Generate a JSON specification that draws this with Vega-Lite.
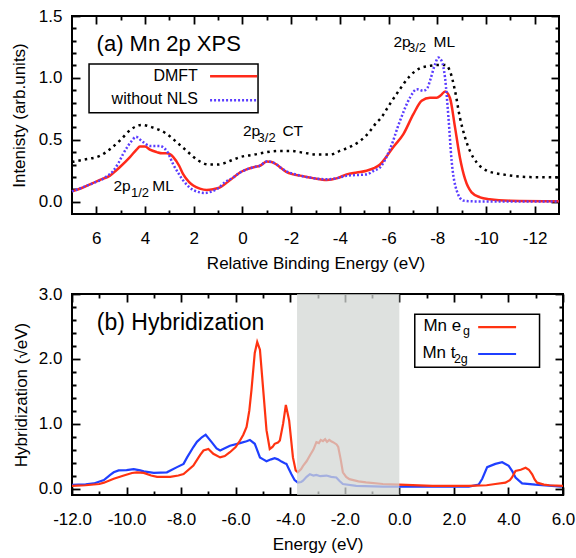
{
  "$schema": "https://vega.github.io/schema/vega-lite/v6.json",
  "padding": {"left": 9, "top": 6, "right": 0, "bottom": 4},
  "spacing": 12,
  "config": {
    "font": "Liberation Sans",
    "view": {"stroke": "black", "strokeWidth": 2},
    "axis": {"domain": false, "grid": false, "zindex": 1, "labelOverlap": false, "labelFlush": false, "offset": -8, "tickSize": 8, "labelFontSize": 17, "labelColor": "black", "titleFontSize": 17, "titleFontWeight": "normal", "titleColor": "black", "tickColor": "black", "tickWidth": 1.8}
  },
  "datasets": {
    "xps": [
      {"s":"exp","e":7.0,"v":0.32},{"s":"exp","e":6.5,"v":0.34},{"s":"exp","e":5.85,"v":0.37},{"s":"exp","e":5.4,"v":0.43},{"s":"exp","e":5.0,"v":0.5},{"s":"exp","e":4.6,"v":0.58},{"s":"exp","e":4.15,"v":0.62},{"s":"exp","e":3.7,"v":0.6},{"s":"exp","e":3.13,"v":0.55},{"s":"exp","e":2.7,"v":0.48},{"s":"exp","e":2.29,"v":0.41},{"s":"exp","e":1.8,"v":0.33},{"s":"exp","e":1.4,"v":0.3},{"s":"exp","e":1.0,"v":0.3},{"s":"exp","e":0.5,"v":0.33},{"s":"exp","e":0.1,"v":0.36},{"s":"exp","e":-0.5,"v":0.38},{"s":"exp","e":-1.0,"v":0.4},{"s":"exp","e":-1.54,"v":0.41},{"s":"exp","e":-2.0,"v":0.41},{"s":"exp","e":-2.36,"v":0.4},{"s":"exp","e":-3.12,"v":0.38},{"s":"exp","e":-3.6,"v":0.38},{"s":"exp","e":-4.0,"v":0.41},{"s":"exp","e":-4.5,"v":0.45},{"s":"exp","e":-4.83,"v":0.49},{"s":"exp","e":-5.2,"v":0.56},{"s":"exp","e":-5.51,"v":0.64},{"s":"exp","e":-5.65,"v":0.667},{"s":"exp","e":-6.06,"v":0.79},{"s":"exp","e":-6.47,"v":0.91},{"s":"exp","e":-6.88,"v":1.016},{"s":"exp","e":-7.29,"v":1.078},{"s":"exp","e":-7.7,"v":1.097},{"s":"exp","e":-8.04,"v":1.105},{"s":"exp","e":-8.32,"v":1.105},{"s":"exp","e":-8.52,"v":1.056},{"s":"exp","e":-8.73,"v":0.895},{"s":"exp","e":-8.93,"v":0.68},{"s":"exp","e":-9.14,"v":0.52},{"s":"exp","e":-9.34,"v":0.41},{"s":"exp","e":-9.62,"v":0.317},{"s":"exp","e":-10.03,"v":0.25},{"s":"exp","e":-10.4,"v":0.23},{"s":"exp","e":-10.85,"v":0.215},{"s":"exp","e":-11.8,"v":0.198},{"s":"exp","e":-13.0,"v":0.196},
      {"s":"dmft","e":7.0,"v":0.083},{"s":"dmft","e":6.6,"v":0.11},{"s":"dmft","e":6.26,"v":0.14},{"s":"dmft","e":5.8,"v":0.18},{"s":"dmft","e":5.44,"v":0.21},{"s":"dmft","e":5.2,"v":0.25},{"s":"dmft","e":5.03,"v":0.28},{"s":"dmft","e":4.62,"v":0.36},{"s":"dmft","e":4.35,"v":0.42},{"s":"dmft","e":4.21,"v":0.446},{"s":"dmft","e":4.0,"v":0.445},{"s":"dmft","e":3.8,"v":0.42},{"s":"dmft","e":3.52,"v":0.4},{"s":"dmft","e":3.3,"v":0.39},{"s":"dmft","e":3.11,"v":0.39},{"s":"dmft","e":2.95,"v":0.38},{"s":"dmft","e":2.84,"v":0.36},{"s":"dmft","e":2.6,"v":0.29},{"s":"dmft","e":2.43,"v":0.22},{"s":"dmft","e":2.2,"v":0.16},{"s":"dmft","e":2.02,"v":0.13},{"s":"dmft","e":1.75,"v":0.105},{"s":"dmft","e":1.47,"v":0.094},{"s":"dmft","e":1.2,"v":0.1},{"s":"dmft","e":0.92,"v":0.115},{"s":"dmft","e":0.6,"v":0.16},{"s":"dmft","e":0.37,"v":0.196},{"s":"dmft","e":0.1,"v":0.235},{"s":"dmft","e":-0.17,"v":0.26},{"s":"dmft","e":-0.5,"v":0.28},{"s":"dmft","e":-0.72,"v":0.29},{"s":"dmft","e":-1.0,"v":0.325},{"s":"dmft","e":-1.2,"v":0.32},{"s":"dmft","e":-1.4,"v":0.3},{"s":"dmft","e":-1.6,"v":0.27},{"s":"dmft","e":-1.8,"v":0.24},{"s":"dmft","e":-2.09,"v":0.22},{"s":"dmft","e":-2.36,"v":0.21},{"s":"dmft","e":-2.9,"v":0.19},{"s":"dmft","e":-3.46,"v":0.175},{"s":"dmft","e":-3.9,"v":0.19},{"s":"dmft","e":-4.28,"v":0.22},{"s":"dmft","e":-4.7,"v":0.235},{"s":"dmft","e":-5.1,"v":0.25},{"s":"dmft","e":-5.4,"v":0.27},{"s":"dmft","e":-5.65,"v":0.3},{"s":"dmft","e":-5.9,"v":0.36},{"s":"dmft","e":-6.19,"v":0.44},{"s":"dmft","e":-6.61,"v":0.546},{"s":"dmft","e":-7.02,"v":0.707},{"s":"dmft","e":-7.36,"v":0.815},{"s":"dmft","e":-7.7,"v":0.84},{"s":"dmft","e":-7.98,"v":0.84},{"s":"dmft","e":-8.15,"v":0.86},{"s":"dmft","e":-8.32,"v":0.89},{"s":"dmft","e":-8.52,"v":0.84},{"s":"dmft","e":-8.73,"v":0.6},{"s":"dmft","e":-8.93,"v":0.357},{"s":"dmft","e":-9.14,"v":0.183},{"s":"dmft","e":-9.41,"v":0.075},{"s":"dmft","e":-9.76,"v":0.035},{"s":"dmft","e":-10.15,"v":0.02},{"s":"dmft","e":-11.0,"v":0.008},{"s":"dmft","e":-13.0,"v":0.004},
      {"s":"nonls","e":7.0,"v":0.083},{"s":"nonls","e":6.26,"v":0.14},{"s":"nonls","e":5.6,"v":0.2},{"s":"nonls","e":5.3,"v":0.25},{"s":"nonls","e":5.1,"v":0.31},{"s":"nonls","e":4.9,"v":0.385},{"s":"nonls","e":4.7,"v":0.45},{"s":"nonls","e":4.55,"v":0.49},{"s":"nonls","e":4.37,"v":0.524},{"s":"nonls","e":4.2,"v":0.5},{"s":"nonls","e":4.07,"v":0.48},{"s":"nonls","e":3.8,"v":0.45},{"s":"nonls","e":3.6,"v":0.45},{"s":"nonls","e":3.39,"v":0.45},{"s":"nonls","e":3.2,"v":0.43},{"s":"nonls","e":3.11,"v":0.41},{"s":"nonls","e":2.84,"v":0.3},{"s":"nonls","e":2.6,"v":0.22},{"s":"nonls","e":2.43,"v":0.17},{"s":"nonls","e":2.2,"v":0.12},{"s":"nonls","e":2.02,"v":0.094},{"s":"nonls","e":1.54,"v":0.07},{"s":"nonls","e":1.3,"v":0.08},{"s":"nonls","e":1.06,"v":0.1},{"s":"nonls","e":0.7,"v":0.16},{"s":"nonls","e":0.37,"v":0.196},{"s":"nonls","e":0.1,"v":0.235},{"s":"nonls","e":-0.17,"v":0.26},{"s":"nonls","e":-0.5,"v":0.28},{"s":"nonls","e":-0.72,"v":0.29},{"s":"nonls","e":-1.0,"v":0.325},{"s":"nonls","e":-1.2,"v":0.32},{"s":"nonls","e":-1.4,"v":0.3},{"s":"nonls","e":-1.6,"v":0.27},{"s":"nonls","e":-1.8,"v":0.245},{"s":"nonls","e":-2.09,"v":0.225},{"s":"nonls","e":-2.36,"v":0.21},{"s":"nonls","e":-2.9,"v":0.19},{"s":"nonls","e":-3.46,"v":0.18},{"s":"nonls","e":-3.9,"v":0.19},{"s":"nonls","e":-4.28,"v":0.21},{"s":"nonls","e":-4.7,"v":0.215},{"s":"nonls","e":-5.1,"v":0.22},{"s":"nonls","e":-5.4,"v":0.25},{"s":"nonls","e":-5.65,"v":0.277},{"s":"nonls","e":-6.06,"v":0.425},{"s":"nonls","e":-6.47,"v":0.653},{"s":"nonls","e":-6.88,"v":0.84},{"s":"nonls","e":-7.16,"v":0.909},{"s":"nonls","e":-7.43,"v":0.895},{"s":"nonls","e":-7.6,"v":0.92},{"s":"nonls","e":-7.7,"v":0.976},{"s":"nonls","e":-7.91,"v":1.11},{"s":"nonls","e":-8.04,"v":1.164},{"s":"nonls","e":-8.18,"v":1.137},{"s":"nonls","e":-8.32,"v":1.0},{"s":"nonls","e":-8.46,"v":0.68},{"s":"nonls","e":-8.59,"v":0.33},{"s":"nonls","e":-8.8,"v":0.089},{"s":"nonls","e":-9.07,"v":0.008},{"s":"nonls","e":-9.5,"v":0.002},{"s":"nonls","e":-13.0,"v":0.002}
    ],
    "hyb": [
      {"s":"eg","e":-12.0,"v":0.04},{"s":"eg","e":-11.5,"v":0.05},{"s":"eg","e":-11.0,"v":0.07},{"s":"eg","e":-10.83,"v":0.09},{"s":"eg","e":-10.47,"v":0.15},{"s":"eg","e":-10.1,"v":0.2},{"s":"eg","e":-9.8,"v":0.24},{"s":"eg","e":-9.62,"v":0.25},{"s":"eg","e":-9.37,"v":0.24},{"s":"eg","e":-9.1,"v":0.2},{"s":"eg","e":-8.88,"v":0.18},{"s":"eg","e":-8.4,"v":0.18},{"s":"eg","e":-8.1,"v":0.2},{"s":"eg","e":-7.91,"v":0.224},{"s":"eg","e":-7.55,"v":0.353},{"s":"eg","e":-7.3,"v":0.52},{"s":"eg","e":-7.18,"v":0.586},{"s":"eg","e":-7.0,"v":0.61},{"s":"eg","e":-6.82,"v":0.535},{"s":"eg","e":-6.57,"v":0.48},{"s":"eg","e":-6.4,"v":0.5},{"s":"eg","e":-6.21,"v":0.56},{"s":"eg","e":-6.0,"v":0.64},{"s":"eg","e":-5.84,"v":0.74},{"s":"eg","e":-5.72,"v":0.83},{"s":"eg","e":-5.6,"v":0.95},{"s":"eg","e":-5.5,"v":1.2},{"s":"eg","e":-5.42,"v":1.52},{"s":"eg","e":-5.3,"v":2.09},{"s":"eg","e":-5.21,"v":2.26},{"s":"eg","e":-5.11,"v":2.14},{"s":"eg","e":-4.99,"v":1.52},{"s":"eg","e":-4.87,"v":0.9},{"s":"eg","e":-4.75,"v":0.61},{"s":"eg","e":-4.65,"v":0.64},{"s":"eg","e":-4.57,"v":0.69},{"s":"eg","e":-4.45,"v":0.71},{"s":"eg","e":-4.38,"v":0.74},{"s":"eg","e":-4.26,"v":1.0},{"s":"eg","e":-4.16,"v":1.29},{"s":"eg","e":-4.04,"v":1.05},{"s":"eg","e":-3.9,"v":0.48},{"s":"eg","e":-3.8,"v":0.28},{"s":"eg","e":-3.72,"v":0.25},{"s":"eg","e":-3.6,"v":0.3},{"s":"eg","e":-3.53,"v":0.35},{"s":"eg","e":-3.4,"v":0.42},{"s":"eg","e":-3.28,"v":0.51},{"s":"eg","e":-3.15,"v":0.6},{"s":"eg","e":-3.04,"v":0.715},{"s":"eg","e":-2.95,"v":0.7},{"s":"eg","e":-2.88,"v":0.75},{"s":"eg","e":-2.8,"v":0.73},{"s":"eg","e":-2.72,"v":0.76},{"s":"eg","e":-2.65,"v":0.72},{"s":"eg","e":-2.57,"v":0.75},{"s":"eg","e":-2.5,"v":0.73},{"s":"eg","e":-2.43,"v":0.715},{"s":"eg","e":-2.3,"v":0.68},{"s":"eg","e":-2.24,"v":0.64},{"s":"eg","e":-2.15,"v":0.45},{"s":"eg","e":-2.07,"v":0.25},{"s":"eg","e":-1.95,"v":0.18},{"s":"eg","e":-1.83,"v":0.145},{"s":"eg","e":-1.5,"v":0.11},{"s":"eg","e":-1.22,"v":0.095},{"s":"eg","e":-0.6,"v":0.07},{"s":"eg","e":0.0,"v":0.06},{"s":"eg","e":1.21,"v":0.04},{"s":"eg","e":2.55,"v":0.04},{"s":"eg","e":3.2,"v":0.05},{"s":"eg","e":3.52,"v":0.07},{"s":"eg","e":3.89,"v":0.09},{"s":"eg","e":4.05,"v":0.13},{"s":"eg","e":4.13,"v":0.17},{"s":"eg","e":4.26,"v":0.27},{"s":"eg","e":4.45,"v":0.29},{"s":"eg","e":4.63,"v":0.32},{"s":"eg","e":4.75,"v":0.29},{"s":"eg","e":4.87,"v":0.22},{"s":"eg","e":4.96,"v":0.14},{"s":"eg","e":5.05,"v":0.09},{"s":"eg","e":5.3,"v":0.06},{"s":"eg","e":5.5,"v":0.05},{"s":"eg","e":6.0,"v":0.04},
      {"s":"t2g","e":-12.0,"v":0.058},{"s":"t2g","e":-11.5,"v":0.065},{"s":"t2g","e":-11.2,"v":0.078},{"s":"t2g","e":-10.83,"v":0.13},{"s":"t2g","e":-10.6,"v":0.21},{"s":"t2g","e":-10.47,"v":0.25},{"s":"t2g","e":-10.29,"v":0.28},{"s":"t2g","e":-10.0,"v":0.285},{"s":"t2g","e":-9.74,"v":0.3},{"s":"t2g","e":-9.5,"v":0.28},{"s":"t2g","e":-9.37,"v":0.265},{"s":"t2g","e":-9.0,"v":0.24},{"s":"t2g","e":-8.52,"v":0.25},{"s":"t2g","e":-8.15,"v":0.33},{"s":"t2g","e":-7.91,"v":0.38},{"s":"t2g","e":-7.78,"v":0.48},{"s":"t2g","e":-7.55,"v":0.64},{"s":"t2g","e":-7.42,"v":0.72},{"s":"t2g","e":-7.24,"v":0.79},{"s":"t2g","e":-7.1,"v":0.83},{"s":"t2g","e":-6.88,"v":0.715},{"s":"t2g","e":-6.7,"v":0.62},{"s":"t2g","e":-6.57,"v":0.586},{"s":"t2g","e":-6.4,"v":0.62},{"s":"t2g","e":-6.21,"v":0.66},{"s":"t2g","e":-5.84,"v":0.7},{"s":"t2g","e":-5.6,"v":0.73},{"s":"t2g","e":-5.48,"v":0.75},{"s":"t2g","e":-5.3,"v":0.69},{"s":"t2g","e":-5.11,"v":0.48},{"s":"t2g","e":-4.99,"v":0.45},{"s":"t2g","e":-4.87,"v":0.42},{"s":"t2g","e":-4.7,"v":0.45},{"s":"t2g","e":-4.57,"v":0.467},{"s":"t2g","e":-4.45,"v":0.45},{"s":"t2g","e":-4.32,"v":0.415},{"s":"t2g","e":-4.2,"v":0.39},{"s":"t2g","e":-4.14,"v":0.38},{"s":"t2g","e":-4.05,"v":0.3},{"s":"t2g","e":-3.96,"v":0.224},{"s":"t2g","e":-3.84,"v":0.13},{"s":"t2g","e":-3.72,"v":0.093},{"s":"t2g","e":-3.6,"v":0.1},{"s":"t2g","e":-3.53,"v":0.12},{"s":"t2g","e":-3.4,"v":0.18},{"s":"t2g","e":-3.28,"v":0.22},{"s":"t2g","e":-3.15,"v":0.2},{"s":"t2g","e":-3.04,"v":0.21},{"s":"t2g","e":-2.9,"v":0.19},{"s":"t2g","e":-2.67,"v":0.2},{"s":"t2g","e":-2.5,"v":0.18},{"s":"t2g","e":-2.31,"v":0.17},{"s":"t2g","e":-2.2,"v":0.12},{"s":"t2g","e":-2.07,"v":0.07},{"s":"t2g","e":-1.58,"v":0.04},{"s":"t2g","e":-0.61,"v":0.03},{"s":"t2g","e":0.0,"v":0.03},{"s":"t2g","e":1.21,"v":0.03},{"s":"t2g","e":2.55,"v":0.03},{"s":"t2g","e":2.91,"v":0.06},{"s":"t2g","e":3.04,"v":0.15},{"s":"t2g","e":3.22,"v":0.33},{"s":"t2g","e":3.52,"v":0.38},{"s":"t2g","e":3.77,"v":0.405},{"s":"t2g","e":4.01,"v":0.35},{"s":"t2g","e":4.15,"v":0.26},{"s":"t2g","e":4.26,"v":0.17},{"s":"t2g","e":4.5,"v":0.08},{"s":"t2g","e":4.99,"v":0.06},{"s":"t2g","e":5.96,"v":0.03}
    ]
  },
  "vconcat": [
    {
      "width": 487,
      "height": 198,
      "resolve": {"axis": {"x": "independent", "y": "independent"}},
      "layer": [
        {
          "data": {"name": "xps"},
          "transform": [{"filter": "datum.s == 'exp'"}],
          "mark": {"type": "line", "color": "black", "strokeWidth": 2.5, "strokeDash": [2.5, 4], "interpolate": "monotone"},
          "encoding": {
            "x": {"field": "e", "type": "quantitative", "scale": {"domain": [7, -13], "nice": false, "zero": false},
              "axis": {"orient": "bottom", "title": "Relative Binding Energy (eV)", "values": [6,5,4,3,2,1,0,-1,-2,-3,-4,-5,-6,-7,-8,-9,-10,-11,-12],
                "labelExpr": "datum.value % 2 == 0 ? replace(format(datum.value, 'd'), '\u2212', '-') : ''",
                "tickDash": {"condition": {"test": "datum.value % 2 != 0", "value": [0, 4, 4]}, "value": [20, 0]},
                "labelPadding": 16, "titlePadding": 9}},
            "y": {"field": "v", "type": "quantitative", "scale": {"domain": [-0.1, 1.5], "nice": false, "zero": false},
              "axis": {"orient": "left", "title": "Intenisty (arb.units)", "values": [0,0.1,0.2,0.3,0.4,0.5,0.6,0.7,0.8,0.9,1.0,1.1,1.2,1.3,1.4,1.5],
                "labelExpr": "abs(datum.value*2 - round(datum.value*2)) < 0.001 ? format(datum.value, '.1f') : ''",
                "tickDash": {"condition": {"test": "abs(datum.value*2 - round(datum.value*2)) > 0.001", "value": [0, 4, 4]}, "value": [20, 0]},
                "labelPadding": 10, "titlePadding": 10}}
          }
        },
        {
          "data": {"name": "xps"},
          "transform": [{"filter": "datum.s == 'dmft'"}],
          "mark": {"type": "line", "color": "#ff2a1a", "strokeWidth": 2.5, "interpolate": "monotone"},
          "encoding": {
            "x": {"field": "e", "type": "quantitative", "axis": null},
            "y": {"field": "v", "type": "quantitative", "axis": null}
          }
        },
        {
          "data": {"name": "xps"},
          "transform": [{"filter": "datum.s == 'nonls'"}],
          "mark": {"type": "line", "color": "#5a3cff", "strokeWidth": 2.5, "strokeDash": [2, 2], "interpolate": "monotone"},
          "encoding": {
            "x": {"field": "e", "type": "quantitative", "axis": null},
            "y": {"field": "v", "type": "quantitative", "axis": null}
          }
        },
        {
          "data": {"values": [{"x1": 6.3, "x2": -0.64, "y1": 1.113, "y2": 0.718}]},
          "mark": {"type": "rect", "fill": "white", "stroke": "black", "strokeWidth": 1.5},
          "encoding": {
            "x": {"field": "x1", "type": "quantitative",
              "axis": {"orient": "top", "title": null, "labels": false, "values": [6,5,4,3,2,1,0,-1,-2,-3,-4,-5,-6,-7,-8,-9,-10,-11,-12],
                "tickDash": {"condition": {"test": "datum.value % 2 != 0", "value": [0, 4, 4]}, "value": [20, 0]}}},
            "x2": {"field": "x2"},
            "y": {"field": "y1", "type": "quantitative",
              "axis": {"orient": "right", "title": null, "labels": false, "values": [0,0.1,0.2,0.3,0.4,0.5,0.6,0.7,0.8,0.9,1.0,1.1,1.2,1.3,1.4,1.5],
                "tickDash": {"condition": {"test": "abs(datum.value*2 - round(datum.value*2)) > 0.001", "value": [0, 4, 4]}, "value": [20, 0]}}},
            "y2": {"field": "y2"}
          }
        },
        {
          "data": {"values": [{"x1": 1.33, "x2": -0.6, "y": 1.013}]},
          "mark": {"type": "rule", "color": "#ff2a1a", "strokeWidth": 2.5},
          "encoding": {
            "x": {"field": "x1", "type": "quantitative", "axis": null},
            "x2": {"field": "x2"},
            "y": {"field": "y", "type": "quantitative", "axis": null}
          }
        },
        {
          "data": {"values": [{"x1": 1.33, "x2": -0.6, "y": 0.82}]},
          "mark": {"type": "rule", "color": "#5a3cff", "strokeWidth": 2.5, "strokeDash": [2, 2]},
          "encoding": {
            "x": {"field": "x1", "type": "quantitative", "axis": null},
            "x2": {"field": "x2"},
            "y": {"field": "y", "type": "quantitative", "axis": null}
          }
        },
        {
          "data": {"values": [{"x": 1.83, "y": 0.976, "t": "DMFT"}, {"x": 1.83, "y": 0.785, "t": "without NLS"}]},
          "mark": {"type": "text", "align": "right", "baseline": "alphabetic", "fontSize": 16, "font": "Liberation Sans", "color": "black"},
          "encoding": {
            "x": {"field": "x", "type": "quantitative", "axis": null},
            "y": {"field": "y", "type": "quantitative", "axis": null},
            "text": {"field": "t"}
          }
        },
        {
          "data": {"values": [{"x": 5.99, "y": 1.218, "t": "(a) Mn 2p XPS"}]},
          "mark": {"type": "text", "align": "left", "baseline": "alphabetic", "fontSize": 22, "font": "Liberation Sans", "color": "black"},
          "encoding": {
            "x": {"field": "x", "type": "quantitative", "axis": null},
            "y": {"field": "y", "type": "quantitative", "axis": null},
            "text": {"field": "t"}
          }
        },
        {
          "data": {"values": [{"x": -0.02, "y": 0.527, "t": "2p"}, {"x": -1.64, "y": 0.527, "t": "CT"}, {"x": 5.3, "y": 0.083, "t": "2p"}, {"x": 3.7, "y": 0.083, "t": "ML"}, {"x": -6.2, "y": 1.252, "t": "2p"}, {"x": -7.85, "y": 1.252, "t": "ML"}]},
          "mark": {"type": "text", "align": "left", "baseline": "alphabetic", "fontSize": 15.5, "font": "Liberation Sans", "color": "black"},
          "encoding": {
            "x": {"field": "x", "type": "quantitative", "axis": null},
            "y": {"field": "y", "type": "quantitative", "axis": null},
            "text": {"field": "t"}
          }
        },
        {
          "data": {"values": [{"x": -0.62, "y": 0.484, "t": "3/2"}, {"x": 4.58, "y": 0.035, "t": "1/2"}, {"x": -6.8, "y": 1.21, "t": "3/2"}]},
          "mark": {"type": "text", "align": "left", "baseline": "alphabetic", "fontSize": 13, "font": "Liberation Sans", "color": "black"},
          "encoding": {
            "x": {"field": "x", "type": "quantitative", "axis": null},
            "y": {"field": "y", "type": "quantitative", "axis": null},
            "text": {"field": "t"}
          }
        }
      ]
    },
    {
      "width": 491,
      "height": 201,
      "resolve": {"axis": {"x": "independent", "y": "independent"}},
      "layer": [
        {
          "data": {"name": "hyb"},
          "transform": [{"filter": "datum.s == 't2g'"}],
          "mark": {"type": "line", "color": "#1f3fff", "strokeWidth": 2.2},
          "encoding": {
            "x": {"field": "e", "type": "quantitative", "scale": {"domain": [-12, 6], "nice": false, "zero": false},
              "axis": {"orient": "bottom", "title": "Energy (eV)", "values": [-12,-11,-10,-9,-8,-7,-6,-5,-4,-3,-2,-1,0,1,2,3,4,5,6],
                "labelExpr": "datum.value % 2 == 0 ? replace(format(datum.value, '.1f'), '\u2212', '-') : ''",
                "tickDash": {"condition": {"test": "datum.value % 2 != 0", "value": [0, 4, 4]}, "value": [20, 0]},
                "labelPadding": 16, "titlePadding": 9}},
            "y": {"field": "v", "type": "quantitative", "scale": {"domain": [-0.1, 3.0], "nice": false, "zero": false},
              "axis": {"orient": "left", "title": "Hybridization (√eV)", "values": [0,0.2,0.4,0.6,0.8,1.0,1.2,1.4,1.6,1.8,2.0,2.2,2.4,2.6,2.8,3.0],
                "labelExpr": "abs(datum.value - round(datum.value)) < 0.001 ? format(datum.value, '.1f') : ''",
                "tickDash": {"condition": {"test": "abs(datum.value - round(datum.value)) > 0.001", "value": [0, 4, 4]}, "value": [20, 0]},
                "labelPadding": 10, "titlePadding": 8}}
          }
        },
        {
          "data": {"name": "hyb"},
          "transform": [{"filter": "datum.s == 'eg'"}],
          "mark": {"type": "line", "color": "#ff3311", "strokeWidth": 2.2},
          "encoding": {
            "x": {"field": "e", "type": "quantitative", "axis": null},
            "y": {"field": "v", "type": "quantitative", "axis": null}
          }
        },
        {
          "data": {"values": [{"x1": -3.75, "x2": 0, "y1": -0.1, "y2": 3.0}]},
          "mark": {"type": "rect", "fill": "#d3d7d4", "opacity": 0.75},
          "encoding": {
            "x": {"field": "x1", "type": "quantitative",
              "axis": {"orient": "top", "title": null, "labels": false, "values": [-12,-11,-10,-9,-8,-7,-6,-5,-4,-3,-2,-1,0,1,2,3,4,5,6],
                "tickDash": {"condition": {"test": "datum.value % 2 != 0", "value": [0, 4, 4]}, "value": [20, 0]}}},
            "x2": {"field": "x2"},
            "y": {"field": "y1", "type": "quantitative",
              "axis": {"orient": "right", "title": null, "labels": false, "values": [0,0.2,0.4,0.6,0.8,1.0,1.2,1.4,1.6,1.8,2.0,2.2,2.4,2.6,2.8,3.0],
                "tickDash": {"condition": {"test": "abs(datum.value - round(datum.value)) > 0.001", "value": [0, 4, 4]}, "value": [20, 0]}}},
            "y2": {"field": "y2"}
          }
        },
        {
          "data": {"values": [{"x1": 0.566, "x2": 5.14, "y1": 2.686, "y2": 1.872}]},
          "mark": {"type": "rect", "fill": "white", "stroke": "black", "strokeWidth": 1.5},
          "encoding": {
            "x": {"field": "x1", "type": "quantitative", "axis": null},
            "x2": {"field": "x2"},
            "y": {"field": "y1", "type": "quantitative", "axis": null},
            "y2": {"field": "y2"}
          }
        },
        {
          "data": {"values": [{"x1": 2.89, "x2": 4.28, "y": 2.49}]},
          "mark": {"type": "rule", "color": "#ff3311", "strokeWidth": 2.2},
          "encoding": {
            "x": {"field": "x1", "type": "quantitative", "axis": null},
            "x2": {"field": "x2"},
            "y": {"field": "y", "type": "quantitative", "axis": null}
          }
        },
        {
          "data": {"values": [{"x1": 2.89, "x2": 4.28, "y": 2.075}]},
          "mark": {"type": "rule", "color": "#1f3fff", "strokeWidth": 2.2},
          "encoding": {
            "x": {"field": "x1", "type": "quantitative", "axis": null},
            "x2": {"field": "x2"},
            "y": {"field": "y", "type": "quantitative", "axis": null}
          }
        },
        {
          "data": {"values": [{"x": 0.883, "y": 2.426, "t": "Mn e"}, {"x": 0.847, "y": 2.012, "t": "Mn t"}]},
          "mark": {"type": "text", "align": "left", "baseline": "alphabetic", "fontSize": 17, "font": "Liberation Sans", "color": "black"},
          "encoding": {
            "x": {"field": "x", "type": "quantitative", "axis": null},
            "y": {"field": "y", "type": "quantitative", "axis": null},
            "text": {"field": "t"}
          }
        },
        {
          "data": {"values": [{"x": 2.33, "y": 2.36, "t": "g"}, {"x": 2.0, "y": 1.935, "t": "2g"}]},
          "mark": {"type": "text", "align": "left", "baseline": "alphabetic", "fontSize": 12.5, "font": "Liberation Sans", "color": "black"},
          "encoding": {
            "x": {"field": "x", "type": "quantitative", "axis": null},
            "y": {"field": "y", "type": "quantitative", "axis": null},
            "text": {"field": "t"}
          }
        },
        {
          "data": {"values": [{"x": -11.09, "y": 2.45, "t": "(b) Hybridization"}]},
          "mark": {"type": "text", "align": "left", "baseline": "alphabetic", "fontSize": 23, "font": "Liberation Sans", "color": "black"},
          "encoding": {
            "x": {"field": "x", "type": "quantitative", "axis": null},
            "y": {"field": "y", "type": "quantitative", "axis": null},
            "text": {"field": "t"}
          }
        }
      ]
    }
  ]
}
